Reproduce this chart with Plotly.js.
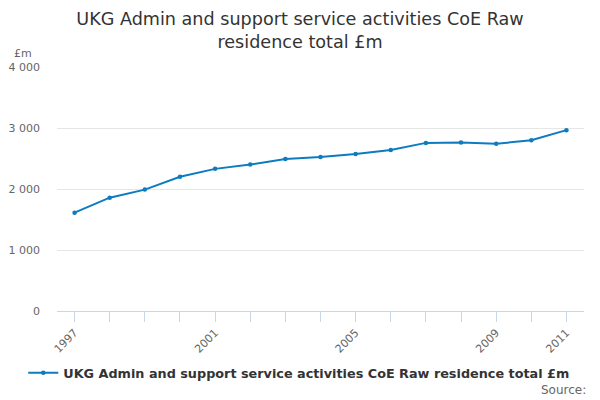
<!DOCTYPE html>
<html>
<head>
<meta charset="utf-8">
<script src="https://cdn.plot.ly/plotly-3.0.1.min.js"></script>
<style>
  html, body { margin: 0; padding: 0; background: #fff; }
  #chart { width: 600px; height: 400px; }
</style>
</head>
<body>
<div id="chart"></div>
<script>
// values
const years = [1997, 1998, 1999, 2000, 2001, 2002, 2003, 2004, 2005, 2006, 2007, 2008, 2009, 2010, 2011]
const values = [1612, 1858, 1990, 2200, 2330, 2400, 2492, 2525, 2574, 2638, 2756, 2762, 2741, 2800, 2965]
const seriesName = 'UKG Admin and support service activities CoE Raw residence total £m'
const labelledYears = [1997, 2001, 2005, 2009, 2011]
const yTicks = [0, 1000, 2000, 3000, 4000]
const yTickText = ['0', '1 000', '2 000', '3 000', '4 000']

const font = 'DejaVu Sans, Verdana, sans-serif'
const blue = '#0c7bc0'

let trace = {
  x: years,
  y: values,
  name: '<b>' + seriesName + '</b>',
  type: 'scatter',
  mode: 'lines+markers',
  line: { color: blue, width: 2 },
  marker: { color: blue, size: 4.5 },
  hoverinfo: 'x+y'
}

let layout = {
  width: 600,
  height: 400,
  margin: { l: 57, r: 16, t: 67, b: 89 },
  paper_bgcolor: '#fff',
  plot_bgcolor: '#fff',
  font: { family: font, color: '#333' },
  title: {
    text: 'UKG Admin and support service activities CoE Raw<br>residence total £m',
    font: { family: font, size: 17.6, color: '#333' },
    x: 0.5, xanchor: 'center',
    y: 0.938, yanchor: 'top'
  },
  xaxis: {
    range: [1996.5, 2011.5],
    tickvals: years,
    ticktext: years.map(y => labelledYears.includes(y) ? String(y) : ''),
    tickangle: -45,
    ticks: 'outside',
    ticklen: 10,
    tickcolor: '#ccd6eb',
    tickfont: { family: font, size: 11, color: '#666' },
    showline: true,
    linecolor: '#ccd6eb',
    linewidth: 1,
    showgrid: false,
    zeroline: false,
    automargin: false,
    fixedrange: true
  },
  yaxis: {
    range: [0, 4000],
    tickvals: yTicks,
    ticktext: yTickText,
    tickfont: { family: font, size: 11, color: '#666' },
    showgrid: true,
    gridcolor: '#e6e6e6',
    gridwidth: 1,
    zeroline: false,
    showline: false,
    ticks: '',
    ticklabelstandoff: 16,
    automargin: false,
    fixedrange: true
  },
  showlegend: true,
  legend: {
    orientation: 'h',
    x: -0.064, xanchor: 'left',
    y: -0.254, yanchor: 'middle',
    font: { family: font, size: 12.8, color: '#333' },
    itemwidth: 30
  },
  annotations: [
    {
      text: '£m', xref: 'paper', yref: 'paper',
      x: -0.0854, y: 1.057, xanchor: 'left', yanchor: 'middle',
      showarrow: false, font: { family: font, size: 11, color: '#666' }
    },
    {
      text: 'Source:', xref: 'paper', yref: 'paper',
      x: 1.008, y: -0.324, xanchor: 'right', yanchor: 'middle',
      showarrow: false, font: { family: font, size: 12, color: '#666' }
    }
  ]
}

Plotly.newPlot('chart', [trace], layout, { displayModeBar: false, staticPlot: true })
</script>
</body>
</html>
